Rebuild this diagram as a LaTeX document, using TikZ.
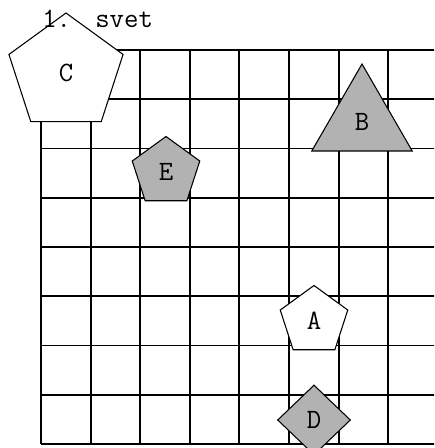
\documentclass[tikz,border=0pt]{standalone}
\usepackage{fontspec}
\usetikzlibrary{shapes.geometric}
\definecolor{shapegray}{RGB}{178,178,178}
\begin{document}
\begin{tikzpicture}[x=0.75pt,y=-0.75pt,
  gridline/.style={line width=1.45pt, draw=black},
  shapeline/.style={draw=black, line width=0.8pt},
  lbl/.style={font=\ttfamily\fontsize{21}{22}\selectfont, inner sep=0pt, text=black},
  pent/.style={regular polygon, regular polygon sides=5, shapeline, lbl},
  tri/.style={regular polygon, regular polygon sides=3, shapeline, lbl},
  dia/.style={diamond, shapeline, lbl}]
\useasboundingbox (0,0) rectangle (434,448);
\clip (0,0) rectangle (434,448);
% grid
\foreach \i in {0,...,8} {
  \draw[gridline] ({41+49.6*\i},50) -- ({41+49.6*\i},444);
}
\foreach \j in {0,...,8} {
  \draw[gridline] (41,{50+49.25*\j}) -- (440,{50+49.25*\j});
}
% shapes
\node[pent, fill=white, minimum size=90pt] (C) at (66,73) {C};
\node[tri, fill=shapegray, minimum size=87pt] (B) at (362,122) {B};
\node[pent, fill=shapegray, minimum size=53.25pt] (E) at (166,172) {E};
\node[pent, fill=white, minimum size=53.25pt] (A) at (314,321) {A};
\node[dia, fill=shapegray, minimum width=54.75pt, minimum height=52.5pt] (D) at (314,420) {D};
% title
\node[lbl, anchor=base west] (num) at (42,28) {1.};
\node[lbl, anchor=base west] (name) at (95,28) {svet};
\end{tikzpicture}
\end{document}
